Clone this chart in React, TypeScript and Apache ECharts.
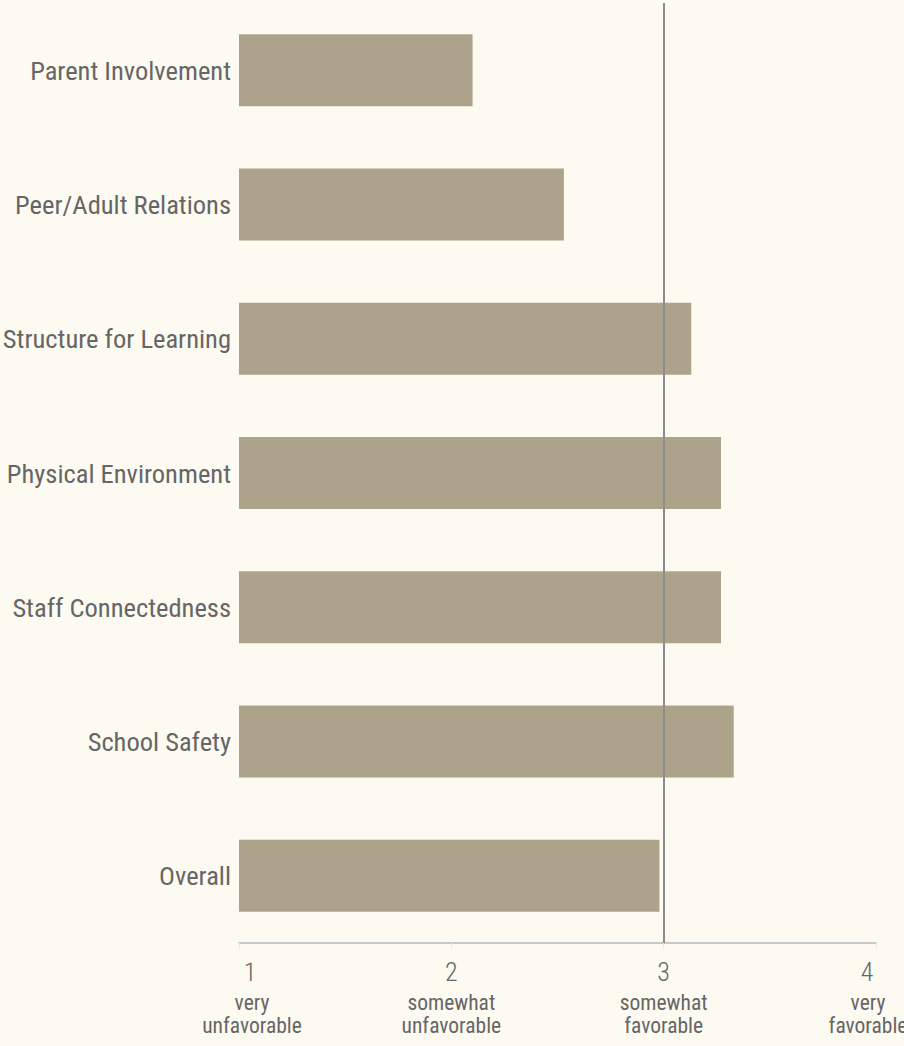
import React, { useEffect, useRef } from "react";
import * as echarts from "echarts";

const categories = [
  "Parent Involvement",
  "Peer/Adult Relations",
  "Structure for Learning",
  "Physical Environment",
  "Staff Connectedness",
  "School Safety",
  "Overall",
];
const values = [2.1, 2.53, 3.13, 3.27, 3.27, 3.33, 2.98];
const tickNumbers = [1, 2, 3, 4];
const tickDescriptions = [
  ["very", "unfavorable"],
  ["somewhat", "unfavorable"],
  ["somewhat", "favorable"],
  ["very", "favorable"],
];
const referenceValue = 3;

const BG = "#fdfaf1";
const BAR = "#ada38b";
const TEXT = "#666666";
const FONT = "'Roboto Condensed', Roboto, sans-serif";

export default function App() {
  const ref = useRef<HTMLDivElement>(null);

  useEffect(() => {
    document.body.style.margin = "0";
    document.body.style.background = BG;
    if (!ref.current) return;
    const chart = echarts.init(ref.current, undefined, { renderer: "svg" });
    const nStyle = { fontSize: 26, fontWeight: 300, lineHeight: 38, color: TEXT, fontFamily: FONT, align: "center" };
    const sStyle = { fontSize: 21.5, lineHeight: 23, color: TEXT, fontFamily: FONT, align: "center" };
    chart.setOption({
      animation: false,
      backgroundColor: BG,
      grid: { left: 239, right: 28, top: 3, bottom: 103, outerBoundsMode: "none" },
      xAxis: {
        type: "value",
        min: 1,
        max: 4,
        interval: 1,
        axisLine: { show: true, lineStyle: { color: "#c8c8c8", width: 2 } },
        axisTick: { show: true, length: 6, lineStyle: { color: "#eeeae0", width: 1 } },
        splitLine: { show: false },
        axisLabel: {
          margin: 10,
          formatter: (v: number) => {
            const i = tickNumbers.indexOf(Math.round(v));
            if (i < 0) return "";
            const suffix = i === 0 ? "a" : i === tickNumbers.length - 1 ? "z" : "";
            const d = tickDescriptions[i];
            return `{n${suffix}|${tickNumbers[i]}}\n{s${suffix}|${d[0]}}\n{s${suffix}|${d[1]}}`;
          },
          rich: {
            n: nStyle,
            s: sStyle,
            na: { ...nStyle, padding: [0, 0, 0, 22] },
            sa: { ...sStyle, padding: [0, 0, 0, 26] },
            nz: { ...nStyle, padding: [0, 18, 0, 0] },
            sz: { ...sStyle, padding: [0, 16, 0, 0] },
          },
        },
      },
      yAxis: {
        type: "category",
        data: categories,
        inverse: true,
        axisLine: { show: false },
        axisTick: { show: false },
        axisLabel: { margin: 8, color: TEXT, fontSize: 26.5, fontFamily: FONT },
      },
      series: [
        {
          type: "bar",
          data: values,
          barWidth: "53.6%",
          clip: true,
          itemStyle: { color: BAR },
          markLine: {
            silent: true,
            symbol: ["none", "none"],
            label: { show: false },
            lineStyle: { color: "#8c8c8c", width: 2, type: "solid" },
            data: [{ xAxis: referenceValue }],
          },
        },
      ],
    });
    return () => chart.dispose();
  }, []);

  return <div ref={ref} style={{ width: 904, height: 1046 }} />;
}
